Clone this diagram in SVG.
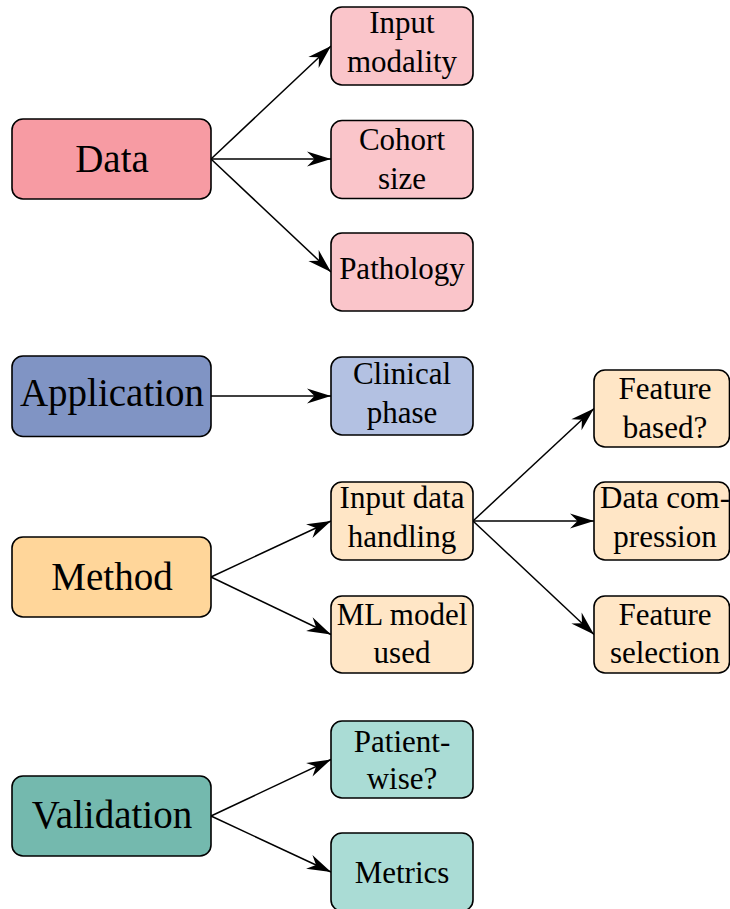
<svg xmlns="http://www.w3.org/2000/svg" width="730" height="909" viewBox="0 0 730 909">
<defs>
<marker id="ah" markerUnits="userSpaceOnUse" markerWidth="30" markerHeight="20" viewBox="-25 -10 27 20" refX="0" refY="0" orient="auto">
<path d="M0,0 L-24,-7.5 L-16.5,0 L-24,7.5 Z" fill="#000"/>
</marker>
<style>
rect{stroke:#000;stroke-width:1.6}
text{font-family:'Liberation Serif','Times New Roman','DejaVu Serif',serif;text-anchor:middle;fill:#000}
.main{font-size:39px}
.sub{font-size:31px}
.d1{fill:#F79BA3}.d2{fill:#FAC5CA}
.a1{fill:#8094C4}.a2{fill:#B3C1E2}
.m1{fill:#FFD69A}.m2{fill:#FFE6C6}
.v1{fill:#74B9AE}.v2{fill:#AADCD5}
#edges line{stroke:#000;stroke-width:1.5;marker-end:url(#ah)}
</style>
</defs>
<g id="edges">
<line x1="211" y1="159" x2="331" y2="46"/>
<line x1="211" y1="159" x2="331" y2="159"/>
<line x1="211" y1="159" x2="331" y2="272"/>
<line x1="211" y1="396" x2="331" y2="396"/>
<line x1="211" y1="577" x2="331" y2="521"/>
<line x1="211" y1="577" x2="331" y2="634.5"/>
<line x1="473" y1="521" x2="594" y2="408.5"/>
<line x1="473" y1="521" x2="594" y2="521"/>
<line x1="473" y1="521" x2="594" y2="634.5"/>
<line x1="211" y1="816" x2="331" y2="759.5"/>
<line x1="211" y1="816" x2="331" y2="872"/>
</g>
<g id="data"><rect class="d1" x="12" y="119" width="199" height="80" rx="11"/><text class="main" x="112" y="171.5" font-family="Liberation Serif">Data</text></g>
<g id="input-modality"><rect class="d2" x="331" y="7" width="142" height="78" rx="11"/><text class="sub" x="402" y="33.3">Input</text><text class="sub" x="402" y="71.5">modality</text></g>
<g id="cohort-size"><rect class="d2" x="331" y="120.5" width="142" height="78" rx="11"/><text class="sub" x="402" y="149.5">Cohort</text><text class="sub" x="402" y="189">size</text></g>
<g id="pathology"><rect class="d2" x="331" y="233" width="142" height="78" rx="11"/><text class="sub" x="402" y="279.3">Pathology</text></g>
<g id="application"><rect class="a1" x="12" y="356" width="199" height="80.5" rx="11"/><text class="main" x="112" y="405.7">Application</text></g>
<g id="clinical-phase"><rect class="a2" x="331" y="357" width="142" height="78" rx="11"/><text class="sub" x="402" y="384">Clinical</text><text class="sub" x="402" y="422.7">phase</text></g>
<g id="method"><rect class="m1" x="12" y="537" width="199" height="80" rx="11"/><text class="main" x="112" y="590">Method</text></g>
<g id="input-data-handling"><rect class="m2" x="331" y="482" width="142" height="78" rx="11"/><text class="sub" x="402" y="508.3">Input data</text><text class="sub" x="402" y="547.3">handling</text></g>
<g id="ml-model-used"><rect class="m2" x="331" y="596" width="142" height="77" rx="11"/><text class="sub" x="402" y="625">ML model</text><text class="sub" x="402" y="663.3">used</text></g>
<g id="feature-based"><rect class="m2" x="594" y="370" width="135.5" height="77" rx="11"/><text class="sub" x="665" y="399.3">Feature</text><text class="sub" x="665" y="438.3">based?</text></g>
<g id="data-compression"><rect class="m2" x="594" y="482" width="135.5" height="78" rx="11"/><text class="sub" x="665" y="508.3">Data com-</text><text class="sub" x="665" y="547.3">pression</text></g>
<g id="feature-selection"><rect class="m2" x="594" y="596" width="135.5" height="77" rx="11"/><text class="sub" x="665" y="625">Feature</text><text class="sub" x="665" y="663.3">selection</text></g>
<g id="validation"><rect class="v1" x="12" y="776" width="199" height="80" rx="11"/><text class="main" x="112" y="828.3">Validation</text></g>
<g id="patient-wise"><rect class="v2" x="331" y="721" width="142" height="77" rx="11"/><text class="sub" x="402" y="751.7">Patient-</text><text class="sub" x="402" y="789.3">wise?</text></g>
<g id="metrics"><rect class="v2" x="331" y="833" width="142" height="78" rx="11"/><text class="sub" x="402" y="882.7">Metrics</text></g>
</svg>
